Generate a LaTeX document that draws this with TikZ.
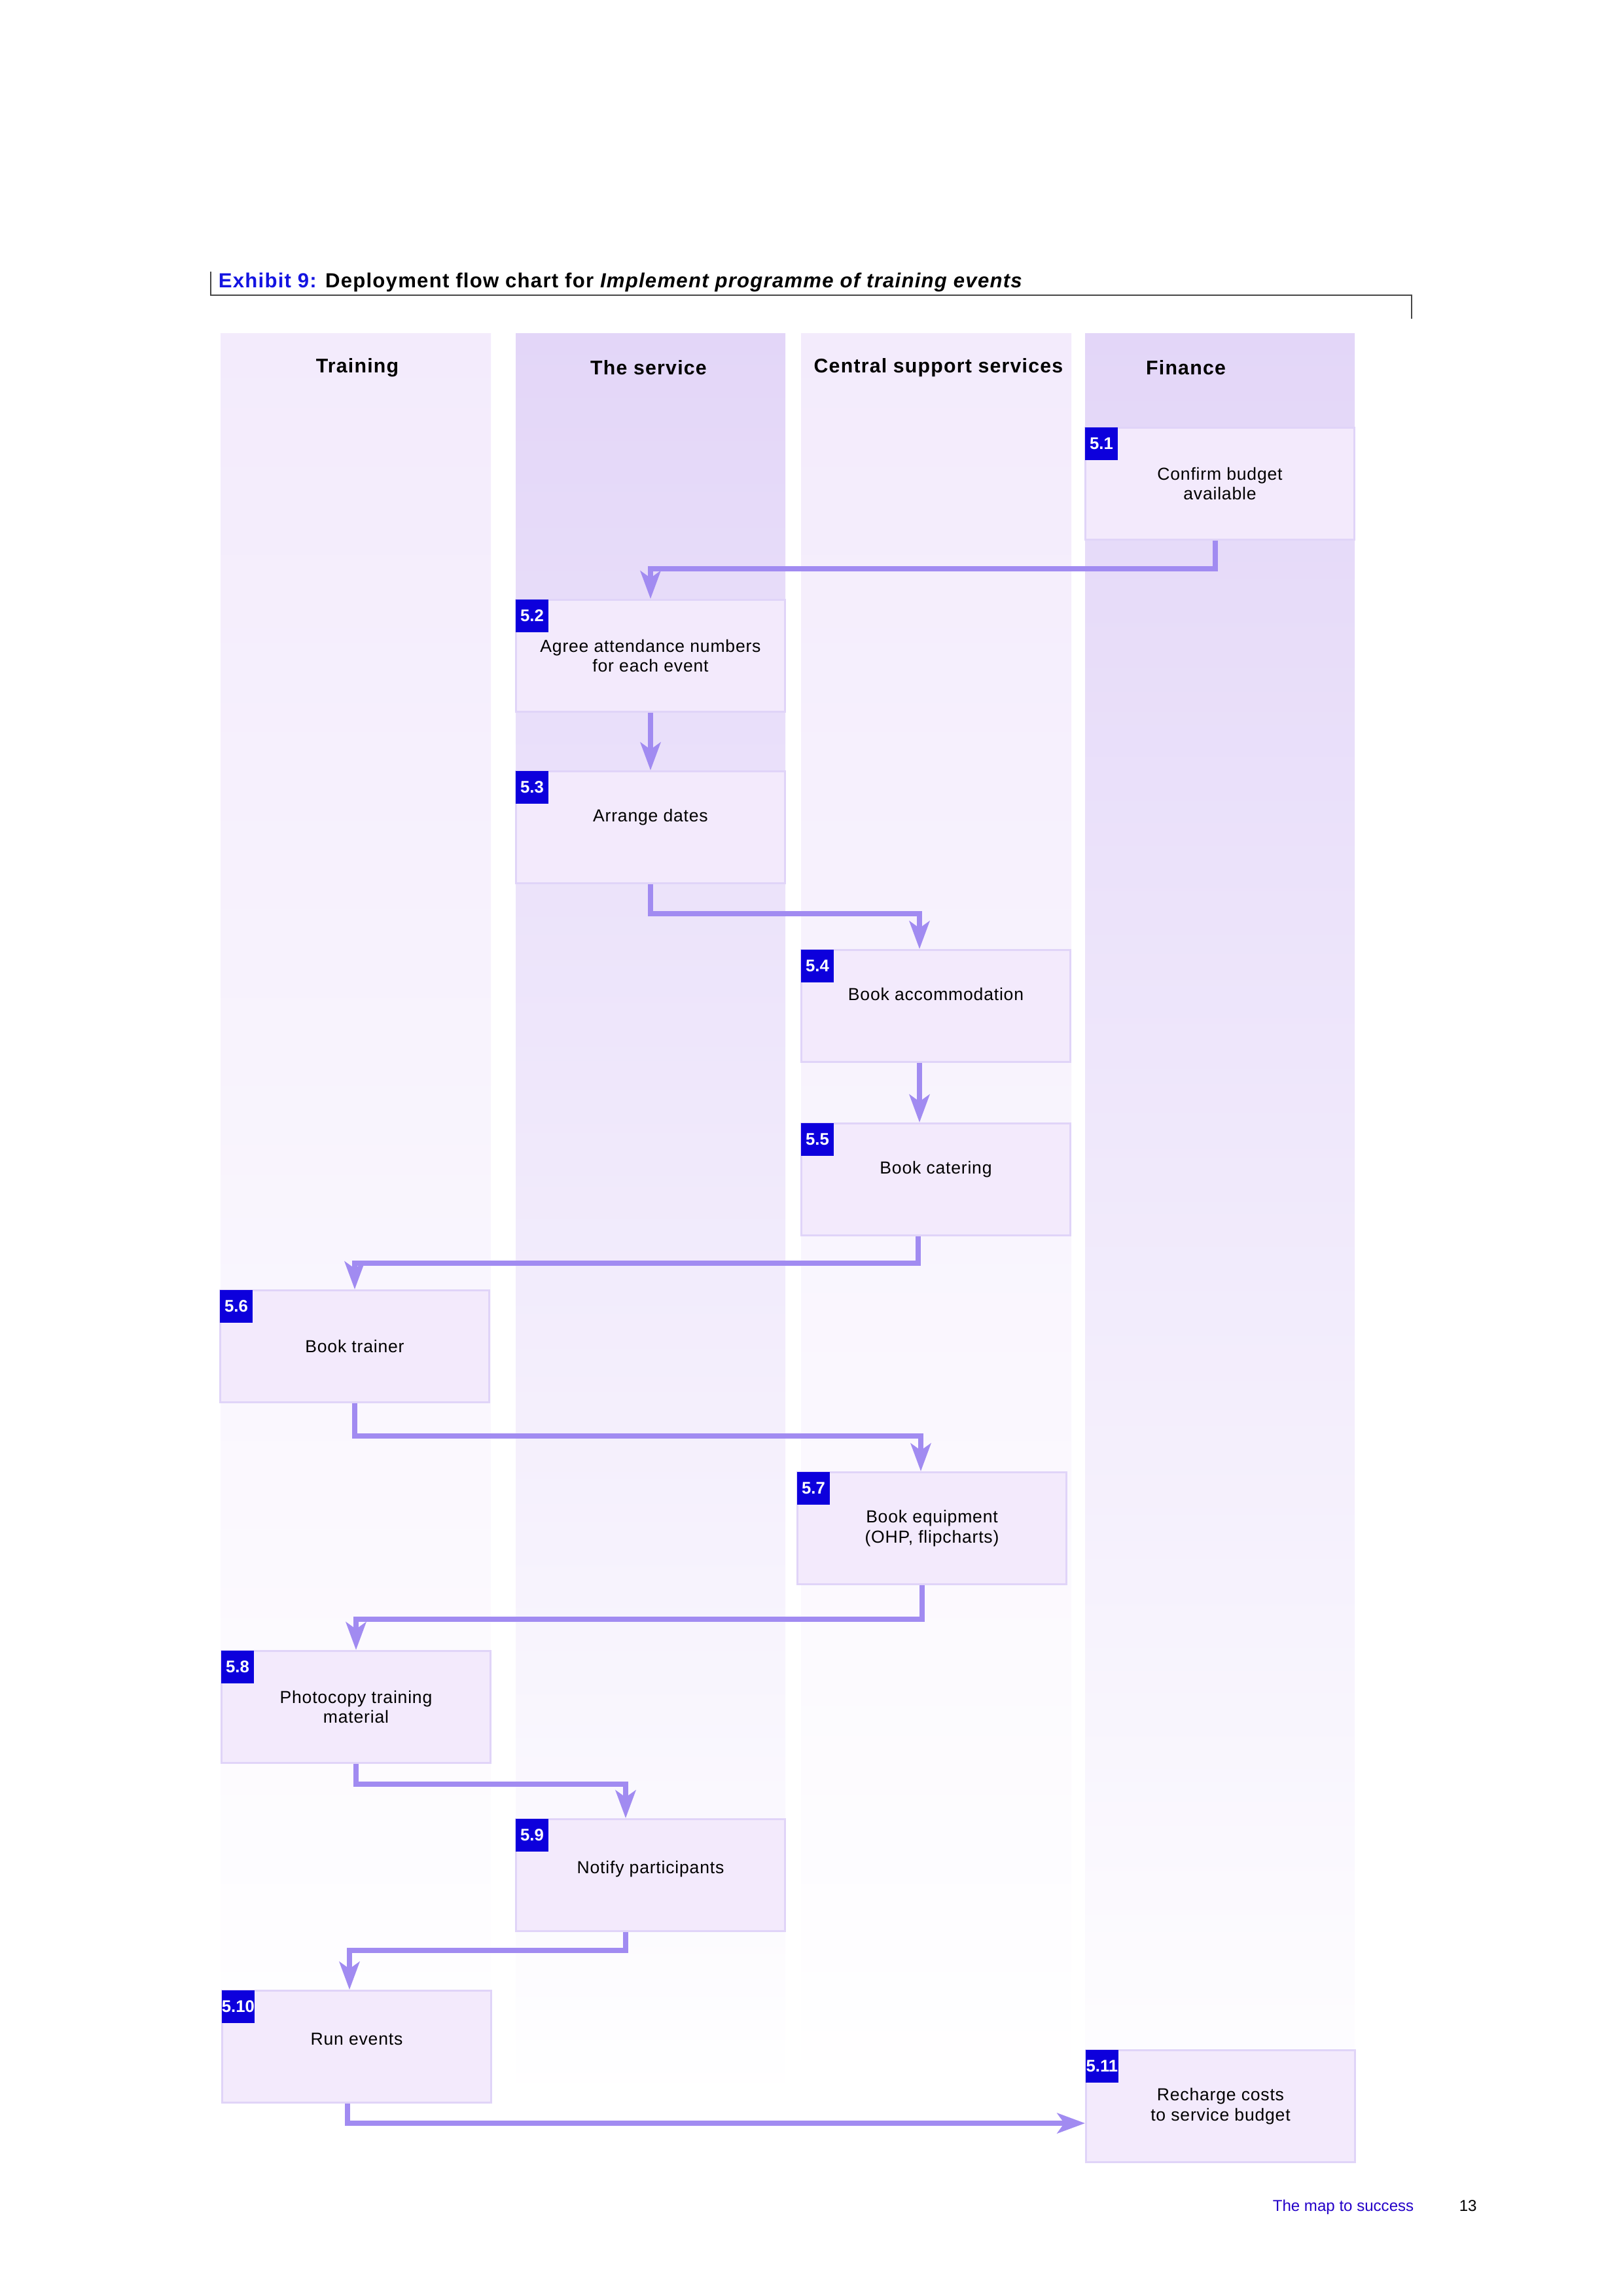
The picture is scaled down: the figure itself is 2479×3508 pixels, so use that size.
\documentclass[tikz,border=0pt]{standalone}
\usepackage{fontspec}
\setmainfont{Liberation Sans}
\newfontfamily\boxfont[LetterSpace=3]{Liberation Sans}
\newfontfamily\titlefont[LetterSpace=4]{Liberation Sans}
\usepackage{xcolor}
\usetikzlibrary{arrows.meta, positioning, calc}
\definecolor{laneDark}{RGB}{227,214,248}
\definecolor{laneLight}{RGB}{243,235,252}
\definecolor{boxFill}{RGB}{243,234,252}
\definecolor{boxLine}{RGB}{224,212,248}
\definecolor{flowArrow}{RGB}{161,139,241}
\definecolor{tagBlue}{RGB}{13,0,220}
\definecolor{titleBlue}{RGB}{20,20,225}
\definecolor{footBlue}{RGB}{35,0,200}
\definecolor{ruleGray}{RGB}{70,70,70}

\begin{document}
\begin{tikzpicture}[x=0.0084712cm, y=-0.0084712cm,
    stepbox/.style={draw=boxLine, line width=0.7pt, fill=boxFill, minimum width=3.48cm, minimum height=1.449cm, align=center, font=\boxfont\fontsize{6.4}{7.4}\selectfont},
    oneline/.style={text depth=0.3cm},
    halfline/.style={text depth=0.2cm},
    numtag/.style={anchor=north west, fill=tagBlue, text=white, font=\bfseries\fontsize{6.2}{7}\selectfont, minimum width=0.424cm, minimum height=0.424cm, inner sep=0pt},
    flow/.style={draw=flowArrow, line width=1.9pt, -{Stealth[length=0.36cm, width=0.26cm, inset=0.09cm]}},
    lanehead/.style={font=\titlefont\bfseries\fontsize{7.3}{9}\selectfont}]
    \useasboundingbox (0,0) rectangle (2479,3508);

    \node[anchor=base west, inner sep=0pt, font=\titlefont\bfseries\fontsize{7.5}{9}\selectfont] (title) at (333,439) {\textcolor{titleBlue}{Exhibit 9:} Deployment flow chart for \textit{Implement programme of training events}};
    \draw[ruleGray, line width=0.5pt] (322,415) -- (322,451) -- (2157,451) -- (2157,487);

    \shade[top color=laneLight, bottom color=white] (337,509) rectangle (750,3215);
    \shade[top color=laneDark, bottom color=white] (788,509) rectangle (1200,3215);
    \shade[top color=laneLight, bottom color=white] (1224,509) rectangle (1637,3215);
    \shade[top color=laneDark, bottom color=white] (1658,509) rectangle (2070,3300);

    \node[lanehead] (hTrain) at (546,562) {Training};
    \node[lanehead] (hService) at (991,562) {The service};
    \node[lanehead] (hCentral) at (1434,562) {Central support services};
    \node[lanehead] (hFinance) at (1812,562) {Finance};

    \node[stepbox, label={[numtag]north west:5.1}] (b51) at (1864,739) {Confirm budget\\available};
    \node[stepbox, label={[numtag]north west:5.2}] (b52) at (994,1002) {Agree attendance numbers\\for each event};
    \node[stepbox, oneline, label={[numtag]north west:5.3}] (b53) at (994,1264) {Arrange dates};
    \node[stepbox, oneline, label={[numtag]north west:5.4}] (b54) at (1430,1537) {Book accommodation};
    \node[stepbox, oneline, label={[numtag]north west:5.5}] (b55) at (1430,1802) {Book catering};
    \node[stepbox, label={[numtag]north west:5.6}] (b56) at (542,2057) {Book trainer};
    \node[stepbox, label={[numtag]north west:5.7}] (b57) at (1424,2335) {Book equipment\\(OHP, flipcharts)};
    \node[stepbox, label={[numtag]north west:5.8}] (b58) at (544,2608) {Photocopy training\\material};
    \node[stepbox, halfline, label={[numtag]north west:5.9}] (b59) at (994,2865) {Notify participants};
    \node[stepbox, halfline, label={[numtag]north west:5.10}] (b510) at (545,3127) {Run events};
    \node[stepbox, label={[numtag]north west:5.11}] (b511) at (1865,3218) {Recharge costs\\to service budget};

    \draw[flow] ($(b51.south)+(-7,0)$) -- ++(0,43) -| (b52.north);
    \draw[flow] (b52.south) -- (b53.north);
    \draw[flow] (b53.south) -- ++(0,45) -| ($(b54.north)+(-25,0)$);
    \draw[flow] ($(b54.south)+(-25,0)$) -- ($(b55.north)+(-25,0)$);
    \draw[flow] ($(b55.south)+(-27,0)$) -- ++(0,41) -| (b56.north);
    \draw[flow] (b56.south) -- ++(0,50) -| ($(b57.north)+(-17,0)$);
    \draw[flow] ($(b57.south)+(-15,0)$) -- ++(0,52) -| (b58.north);
    \draw[flow] (b58.south) -- ++(0,31) -| ($(b59.north)+(-38,0)$);
    \draw[flow] ($(b59.south)+(-38,0)$) -- ++(0,28) -| ($(b510.north)+(-11,0)$);
    \draw[flow] ($(b510.south)+(-14,0)$) |- ($(b511.west)+(0,26)$);

    \node[anchor=base west, inner sep=0pt, text=footBlue, font=\fontsize{5.8}{7}\selectfont] (footer) at (1944,3378) {The map to success};
    \node[anchor=base west, inner sep=0pt, font=\fontsize{5.8}{7}\selectfont] (pageno) at (2229,3378) {13};
\end{tikzpicture}
\end{document}
